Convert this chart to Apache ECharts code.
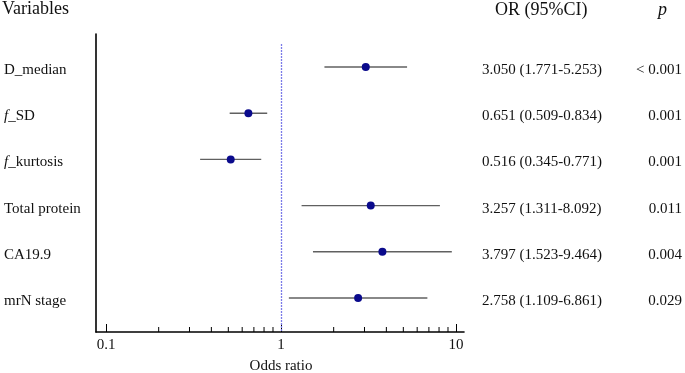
<!DOCTYPE html>
<html>
<head>
<meta charset="utf-8">
<script src="https://cdn.jsdelivr.net/npm/echarts@6/dist/echarts.min.js"></script>
<style>
html,body{margin:0;padding:0;background:#fff;}
#chart{width:685px;height:373px;}
</style>
</head>
<body>
<div id="chart"></div>
<script>
// data
var variables = ['D_median', 'f_SD', 'f_kurtosis', 'Total protein', 'CA19.9', 'mrN stage'];
var orVals = [3.050, 0.651, 0.516, 3.257, 3.797, 2.758];
var ciLow = [1.771, 0.509, 0.345, 1.311, 1.523, 1.109];
var ciHigh = [5.253, 0.834, 0.771, 8.092, 9.464, 6.861];
var pVals = ['< 0.001', '0.001', '0.001', '0.011', '0.004', '0.029'];
var minorTicks = [0.2, 0.3, 0.4, 0.5, 0.6, 0.7, 0.8, 0.9, 2, 3, 4, 5, 6, 7, 8, 9];

var serif = '"Liberation Serif", "Times New Roman", serif';
var yMin = -0.714, yMax = 5.736;

var myChart = echarts.init(document.getElementById('chart'));

var rowData = [];
var pointData = [];
for (var i = 0; i < variables.length; i++) {
    rowData.push([ciLow[i], ciHigh[i], i]);
    pointData.push([orVals[i], i]);
}

// row label text (f_ prefix gets an italic f)
function rowLabel(name) {
    if (name.indexOf('f_') === 0) {
        return '{i|f}_' + name.substring(2);
    }
    return name;
}

option = {
    animation: false,
    backgroundColor: '#fff',
    grid: [
        {left: 96, right: 221, top: 34, bottom: 41, outerBoundsMode: 'none', containLabel: false},
        {left: 106, right: 229, top: 34, bottom: 41, outerBoundsMode: 'none', containLabel: false}
    ],
    xAxis: [
        {
            gridIndex: 0, type: 'value', min: 0, max: 1,
            axisLine: {show: true, onZero: false, lineStyle: {color: '#000', width: 1.6}},
            axisTick: {show: false}, axisLabel: {show: false}, splitLine: {show: false}
        },
        {
            gridIndex: 1, type: 'log', logBase: 10, min: 0.1, max: 10,
            axisLine: {show: false, onZero: false},
            axisTick: {show: true, inside: true, length: 8, lineStyle: {color: '#000', width: 1}},
            axisLabel: {fontFamily: serif, fontSize: 15, color: '#111', margin: 6},
            splitLine: {show: false},
            name: 'Odds ratio', nameLocation: 'middle', nameGap: 27,
            nameTextStyle: {fontFamily: serif, fontSize: 15, color: '#111'}
        }
    ],
    yAxis: [
        {
            gridIndex: 0, type: 'value', min: 0, max: 1,
            axisLine: {show: true, onZero: false, lineStyle: {color: '#000', width: 1.6}},
            axisTick: {show: false}, axisLabel: {show: false}, splitLine: {show: false}
        },
        {
            gridIndex: 1, type: 'value', inverse: true, min: yMin, max: yMax,
            show: false, axisLine: {onZero: false}, splitLine: {show: false}
        }
    ],
    graphic: [
        {type: 'text', left: 2, top: 0, style: {text: 'Variables', fontFamily: serif, fontSize: 18, fill: '#111'}},
        {type: 'text', left: 495, top: 1, style: {text: 'OR (95%CI)', fontFamily: serif, fontSize: 18, fill: '#111'}},
        {type: 'text', left: 658, top: 1, style: {text: 'p', fontFamily: serif, fontSize: 18, fontStyle: 'italic', fill: '#111'}}
    ],
    series: [
        {
            // minor log ticks 2..9
            type: 'custom', xAxisIndex: 1, yAxisIndex: 1, silent: true,
            data: minorTicks.map(function (v) { return [v]; }),
            renderItem: function (params, api) {
                var p = api.coord([api.value(0), yMax]);
                return {
                    type: 'line',
                    shape: {x1: p[0], y1: p[1], x2: p[0], y2: p[1] - 5},
                    style: {stroke: '#000', lineWidth: 1}
                };
            }
        },
        {
            // confidence intervals
            type: 'custom', xAxisIndex: 1, yAxisIndex: 1, silent: true,
            data: rowData,
            renderItem: function (params, api) {
                var a = api.coord([api.value(0), api.value(2)]);
                var b = api.coord([api.value(1), api.value(2)]);
                return {
                    type: 'line',
                    shape: {x1: a[0], y1: a[1], x2: b[0], y2: b[1]},
                    style: {stroke: '#606060', lineWidth: 1.4}
                };
            },
            markLine: {
                silent: true, symbol: 'none',
                label: {show: false},
                lineStyle: {color: '#7b7be8', type: [2, 1], width: 1.3},
                data: [[{coord: [1, -0.5]}, {coord: [1, yMax]}]]
            }
        },
        {
            type: 'scatter', xAxisIndex: 1, yAxisIndex: 1,
            data: pointData, symbol: 'circle', symbolSize: 8,
            itemStyle: {color: '#0a0a8c', opacity: 1}
        },
        {
            // row labels and table text
            type: 'custom', xAxisIndex: 1, yAxisIndex: 1, silent: true,
            data: variables.map(function (v, i) { return [1, i]; }),
            renderItem: function (params, api) {
                var i = params.dataIndex;
                var y = api.coord([1, i])[1] + 3;
                var base = {fontFamily: serif, fontSize: 15, fill: '#111', verticalAlign: 'middle'};
                return {
                    type: 'group',
                    children: [
                        {type: 'text', x: 4, y: y, style: echarts.util.extend({
                            text: rowLabel(variables[i]), align: 'left',
                            rich: {i: {fontFamily: serif, fontSize: 15, fontStyle: 'italic'}}
                        }, base)},
                        {type: 'text', x: 482, y: y, style: echarts.util.extend({
                            text: orVals[i].toFixed(3) + ' (' + ciLow[i].toFixed(3) + '-' + ciHigh[i].toFixed(3) + ')',
                            align: 'left'
                        }, base)},
                        {type: 'text', x: 682, y: y, style: echarts.util.extend({
                            text: pVals[i], align: 'right'
                        }, base)}
                    ]
                };
            }
        }
    ]
};

myChart.setOption(option);
</script>
</body>
</html>
